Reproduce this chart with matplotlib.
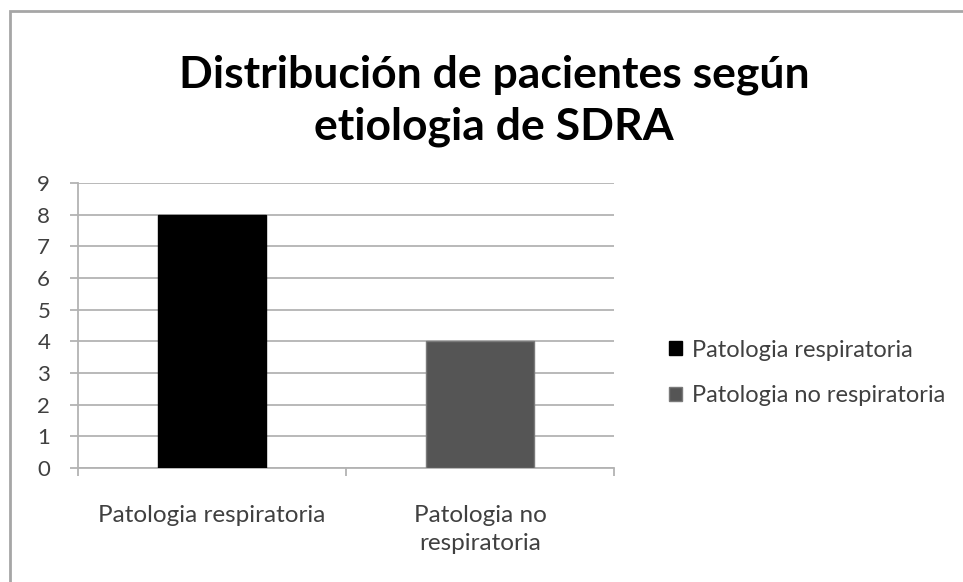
import matplotlib.pyplot as plt
from matplotlib.patches import Rectangle

# data
categories = ['Patologia respiratoria', 'Patologia no respiratoria']
tick_labels = ['Patologia respiratoria', 'Patologia no\nrespiratoria']
counts = [8, 4]
bar_colors = ['#000000', '#555555']
edge_colors = ['#000000', '#7a7a7a']

plt.rcParams['font.family'] = ['Lato', 'DejaVu Sans']

W, H = 963, 582
fig = plt.figure(figsize=(W / 100, H / 100), dpi=100)
fig.patch.set_facecolor('white')

# outer chart border (runs off the right and bottom edges)
fig.patches.append(Rectangle((10 / W, -0.1), 1.2, 1 - 11 / H + 0.1,
                             transform=fig.transFigure, fill=False,
                             edgecolor='#a6a6a6', linewidth=2))

left, right, top, bottom = 78, 614, 183, 468
ax = fig.add_axes([left / W, 1 - bottom / H, (right - left) / W, (bottom - top) / H])

x = list(range(len(categories)))
ax.bar(x, counts, width=0.4, color=bar_colors, edgecolor=edge_colors,
       linewidth=1, zorder=3)

ax.set_xlim(-0.5, 1.5)
ax.set_ylim(0, 9)
ax.set_yticks(range(0, 10))
ax.yaxis.grid(True, color='#b3b3b3', linewidth=1.3, zorder=0)
ax.set_axisbelow(True)

for s in ['top', 'right']:
    ax.spines[s].set_visible(False)
for s in ['left', 'bottom']:
    ax.spines[s].set_color('#b3b3b3')
    ax.spines[s].set_linewidth(1.3)

ax.tick_params(axis='y', length=6, width=1.3, color='#b3b3b3', pad=14,
               labelsize=16, labelcolor='#404040')
ax.set_xticks([-0.5, 0.5, 1.5])
ax.set_xticklabels(['', '', ''])
ax.tick_params(axis='x', which='major', length=6, width=1.3, color='#b3b3b3')
ax.set_xticks(x, minor=True)
ax.set_xticklabels(tick_labels, minor=True, linespacing=1.4)
ax.tick_params(axis='x', which='minor', length=0, pad=27, labelsize=17.5,
               labelcolor='#404040')

fig.text(0.513, 1 - 75 / H, 'Distribución de pacientes según', ha='center',
         va='center', fontsize=32, fontweight='bold', color='#000000')
fig.text(0.513, 1 - 127 / H, 'etiologia de SDRA', ha='center',
         va='center', fontsize=32, fontweight='bold', color='#000000')

handles = [Rectangle((0, 0), 1, 1, facecolor=c, edgecolor=e)
           for c, e in zip(bar_colors, edge_colors)]
fig.legend(handles, categories, loc='center left',
           bbox_to_anchor=(648 / W, 1 - 373 / H), frameon=False,
           fontsize=17, handlelength=0.55, handleheight=0.55,
           handletextpad=0.4, labelspacing=1.05, labelcolor='#404040')

fig.savefig('out.png', dpi=100, facecolor='white')
